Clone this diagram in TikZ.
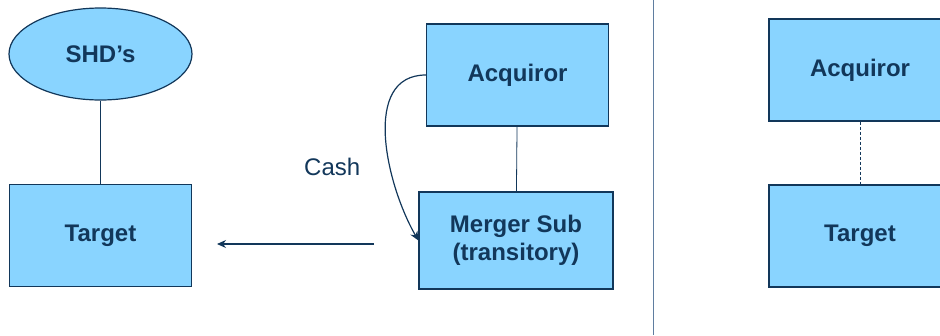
\documentclass[tikz,border=0pt]{standalone}
\usepackage{fontspec}
\setmainfont{Liberation Sans}
\usetikzlibrary{shapes.geometric,arrows.meta}
\definecolor{boxblue}{RGB}{137,212,255}
\definecolor{darknavy}{RGB}{18,55,90}
\definecolor{splitgray}{RGB}{95,125,160}

\begin{document}
\begin{tikzpicture}[x=1pt, y=1pt,
    entity/.style={draw=darknavy, fill=boxblue, line width=1.2pt, text=darknavy,
      minimum width=182pt, minimum height=102pt, inner sep=0pt,
      font=\fontsize{24}{28}\selectfont\bfseries, align=center},
    holder/.style={entity, ellipse, minimum width=183pt, minimum height=92pt},
    link/.style={darknavy, line width=0.8pt},
    flow/.style={darknavy, line width=1.2pt, -{Stealth[length=9pt, width=8pt]}}]
    \useasboundingbox (0,0) rectangle (940,-335);

    % Before the merger
    \node[holder] (shd) at (100.5,-54) {SHD’s};
    \node[entity] (tgt) at (100.5,-235.5) {Target};
    \node[entity] (acq) at (517.5,-75) {Acquiror};
    \node[entity, minimum width=194pt, minimum height=97pt] (msub) at (516,-240.5) {Merger Sub\\(transitory)};
    \draw[link] (shd) -- (tgt);
    \draw[link] (acq) -- (msub);

    % Cash and merger
    \draw[flow] (acq.west) to[out=180, in=120] node[pos=0.64, left=26pt, text=darknavy,
      font=\fontsize{24}{28}\selectfont] (cash) {Cash} (msub.west);
    \coordinate (mfrom) at (374,-244);
    \coordinate (mto) at (217,-244);
    \draw[flow] (mfrom) -- (mto);

    % Divider
    \coordinate (divtop) at (653,0);
    \coordinate (divbot) at (653,-335);
    \draw[splitgray, line width=1pt] (divtop) -- (divbot);

    % After the merger
    \node[entity] (acq2) at (860,-70) {Acquiror};
    \node[entity] (tgt2) at (860,-236) {Target};
    \draw[link, densely dashed] (acq2) -- (tgt2);
\end{tikzpicture}
\end{document}
